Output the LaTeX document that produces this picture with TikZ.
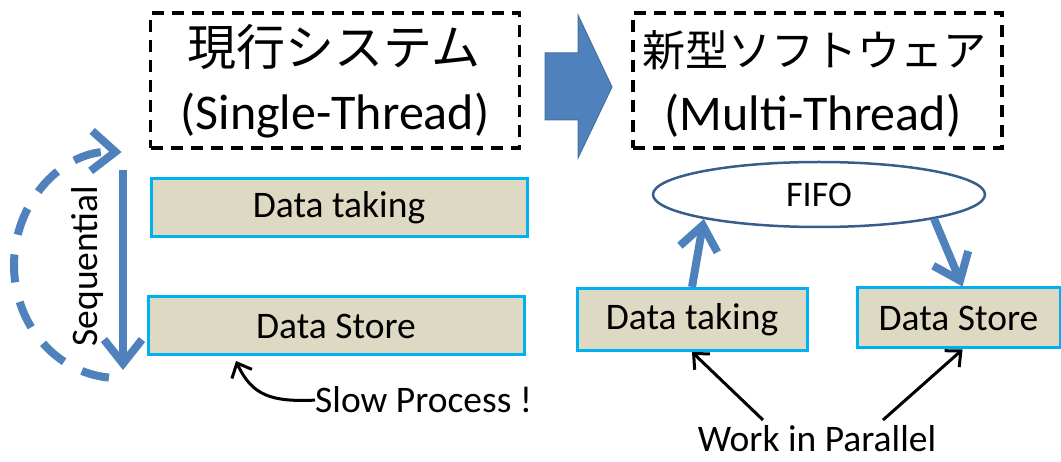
\documentclass[tikz,border=0pt]{standalone}
\usepackage{fontspec}
\setmainfont{Carlito}
\newfontfamily\jp{Noto Sans CJK JP}
\usetikzlibrary{arrows.meta,shapes.geometric,calc}
\definecolor{arrowblue}{HTML}{4F81BD}
\definecolor{arrowedge}{HTML}{41719C}
\definecolor{boxcyan}{HTML}{00B0F0}
\definecolor{boxtan}{HTML}{DDD9C3}
\definecolor{fifoedge}{HTML}{385D8A}
\tikzset{
  titlebox/.style={draw=black, line width=3.2pt, dash pattern=on 12pt off 8pt, minimum width=369pt, minimum height=135pt, inner sep=0pt},
  jptext/.style={font=\jp\fontsize{49}{52}\selectfont, inner sep=0pt},
  entext/.style={font=\fontsize{50}{54}\selectfont, inner sep=0pt},
  procbox/.style={draw=boxcyan, fill=boxtan, line width=3pt, inner sep=0pt, font=\fontsize{37.5}{40}\selectfont},
  smalltext/.style={font=\fontsize{37.5}{40}\selectfont, inner sep=0pt},
  bluearrow/.style={draw=arrowblue, line width=8pt, -{Straight Barb[length=24pt,width=38pt]}},
  blackarrow/.style={draw=black, line width=3pt, -{Straight Barb[length=12pt,width=22pt]}},
}
\begin{document}
\begin{tikzpicture}[x=1pt,y=-1pt]
\useasboundingbox (0,0) rectangle (1061,462);

% title boxes
\node[titlebox] (tl) at (335,80.5) {};
\node[jptext] (tlj) at (334,47) {現行システム};
\node[entext] (tle) at (335,116) {(Single-Thread)};
\node[titlebox] (tr) at (817.5,80.5) {};
\node[jptext, font=\jp\fontsize{43}{46}\selectfont] (trj) at (814,50) {新型ソフトウェア};
\node[entext] (tre) at (813,116) {(Multi-Thread)};

% block arrow
\draw[fill=arrowblue, draw=arrowedge, line width=1pt]
  (545,53) -- (578,53) -- (578,15) -- (612,87) -- (578,158) -- (578,120) -- (545,120) -- cycle;

% left process boxes
\node[procbox, minimum width=376pt, minimum height=58pt] (dt1) at (339,208) {Data taking};
\node[procbox, minimum width=376pt, minimum height=58pt] (ds1) at (336,326) {Data Store};

% sequential arrow
\coordinate (seqtop) at (123,170);
\coordinate (seqbot) at (123,370);
\draw[bluearrow] (seqtop) -- (seqbot);
\node[smalltext, rotate=90] (seq) at (88,266) {Sequential};

% dashed loop
\draw[draw=arrowblue, line width=8pt, dash pattern=on 28pt off 20pt,
      -{Straight Barb[length=24pt,width=40pt]}]
  (118,265) ++(95:104 and 113) arc[start angle=95, end angle=272, x radius=104, y radius=113];

% slow process
\node[smalltext, anchor=base west] (slow) at (315,413) {Slow Process !};
\coordinate (slowtip) at (236,361);
\draw[blackarrow] (slow.west) .. controls (272,402) and (252,396) .. (slowtip);

% right side
\node[draw=fifoedge, line width=2.5pt, ellipse, minimum width=332pt, minimum height=65pt, inner sep=0pt, font=\fontsize{36}{40}\selectfont] (fifo) at (819,194.5) {FIFO};
\node[procbox, minimum width=230pt, minimum height=62pt] (dt2) at (692,319.5) {Data taking};
\node[procbox, minimum width=203pt, minimum height=60pt] (ds2) at (958.5,318) {Data Store};

\draw[bluearrow] (dt2.north) -- (fifo.192);
\draw[bluearrow] (fifo.348) -- ([xshift=4pt]ds2.north);

\node[smalltext, anchor=base] (wip) at (817,451) {Work in Parallel};
\coordinate (wipl) at (763,420);
\coordinate (wipr) at (883,420);
\draw[blackarrow] (wipl) -- (dt2.south);
\draw[blackarrow] (wipr) -- ([xshift=4pt]ds2.south);
\end{tikzpicture}
\end{document}
